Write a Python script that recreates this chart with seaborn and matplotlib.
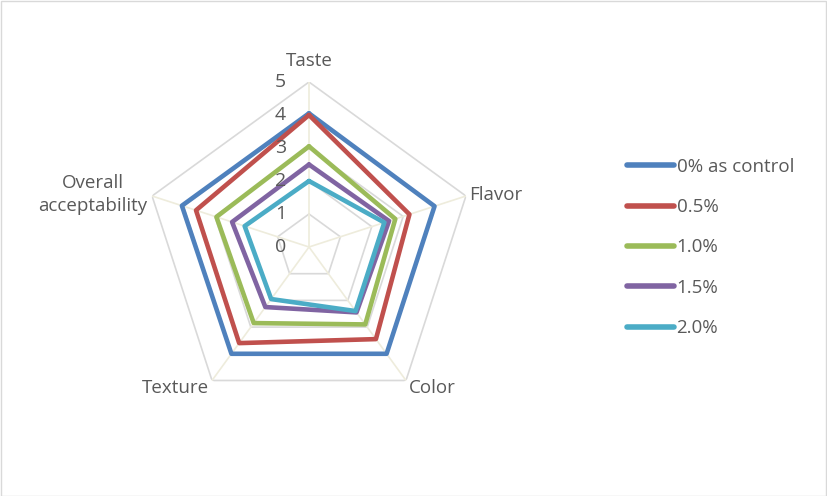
import numpy as np
import pandas as pd
import matplotlib
matplotlib.use("Agg")
import matplotlib.pyplot as plt
import matplotlib.transforms as mtransforms
from matplotlib.patches import Rectangle
from matplotlib.lines import Line2D
import seaborn as sns

categories = ["Taste", "Flavor", "Color", "Texture", "Overall\nacceptability"]
series_names = ["0% as control", "0.5%", "1.0%", "1.5%", "2.0%"]
control = [4.05, 4.0, 4.0, 4.0, 4.05]
pct_05 = [4.0, 3.2, 3.45, 3.6, 3.6]
pct_10 = [3.05, 2.75, 2.9, 2.85, 2.95]
pct_15 = [2.5, 2.55, 2.45, 2.25, 2.45]
pct_20 = [2.0, 2.4, 2.4, 1.95, 2.05]
tick_values = [0, 1, 2, 3, 4, 5]
colors = ["#4F81BD", "#C0504D", "#9BBB59", "#8064A2", "#4BACC6"]

sns.set_style("white")
plt.rcParams["font.family"] = ["Open Sans", "DejaVu Sans"]

n = len(categories)
angles = np.linspace(0, 2 * np.pi, n, endpoint=False)
closed_angles = np.append(angles, angles[0])

rows = []
for name, vals in zip(series_names, [control, pct_05, pct_10, pct_15, pct_20]):
    cv = list(vals) + [vals[0]]
    for i, (a, v) in enumerate(zip(closed_angles, cv)):
        rows.append({"series": name, "order": i, "theta": a, "value": v})
df = pd.DataFrame(rows)

fig = plt.figure(figsize=(8.27, 4.96), dpi=100)
W, H = 827, 496
cx, cy, R = 309, 247, 165
ax = fig.add_axes([(cx - R) / W, (H - cy - R) / H, 2 * R / W, 2 * R / H], projection="polar")
ax.set_theta_offset(np.pi / 2)
ax.set_theta_direction(-1)
ax.set_ylim(0, 5)

# polygon grid
for r in tick_values[1:]:
    ax.plot(closed_angles, [r] * len(closed_angles), color="#d9d9d9", lw=1.2, zorder=1)
for a in angles:
    ax.plot([a, a], [0, 5], color="#eeecdc", lw=1.2, zorder=1)

sns.lineplot(data=df, x="theta", y="value", hue="series", hue_order=series_names,
             palette=colors, sort=False, estimator=None, units="series",
             lw=3.3, ax=ax, legend=False, zorder=3)

ax.grid(False)
ax.spines["polar"].set_visible(False)
ax.set_xticks([])
ax.set_yticks([])
ax.set_xlabel("")
ax.set_ylabel("")

txtc = "#595959"
off = mtransforms.offset_copy(ax.transData, fig=fig, x=-23, y=0, units="dots")
for t in tick_values:
    ax.text(0, t, str(t), transform=off, ha="right", va="center", fontsize=14, color=txtc)

label_pos = [
    (5.65, "center", 0),
    (5.1, "left", 0),
    (5.15, "left", -4),
    (5.15, "right", -4),
    (5.15, "right", 0),
]
for a, lab, (r, ha, dy) in zip(angles, categories, label_pos):
    tr = mtransforms.offset_copy(ax.transData, fig=fig, x=0, y=dy, units="dots")
    ax.text(a, r, lab, transform=tr, ha=ha, va="center", fontsize=13.5, color=txtc,
            linespacing=1.3, multialignment="center")

handles = [Line2D([0], [0], color=c, lw=4, solid_capstyle="round") for c in colors]
fig.legend(handles, series_names, loc="upper left", bbox_to_anchor=(610 / W, 1 - 141 / H),
           frameon=False, fontsize=13.5, labelspacing=1.19, handlelength=2.5,
           handletextpad=0.15, labelcolor=txtc)

fig.patches.append(Rectangle((0.5 / W, 0.5 / H), 1 - 1.5 / W, 1 - 1.5 / H, transform=fig.transFigure,
                             fill=False, edgecolor="#d9d9d9", lw=1))

fig.savefig("out.png", dpi=100)
